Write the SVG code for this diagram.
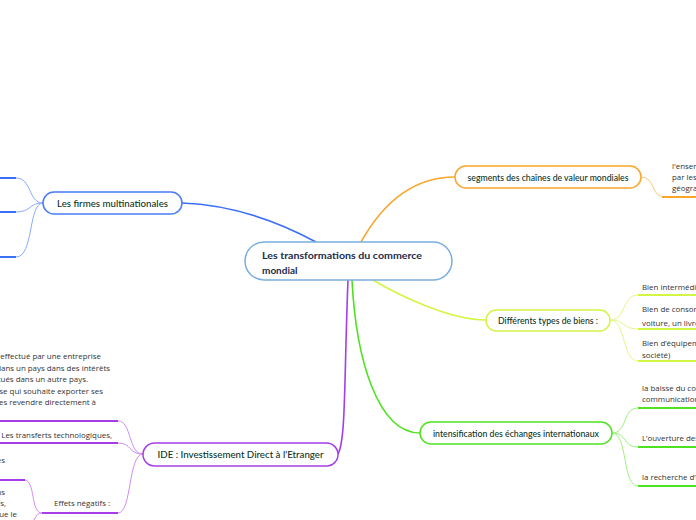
<svg xmlns="http://www.w3.org/2000/svg" width="696" height="520" viewBox="0 0 696 520">
<style>
.node{fill:#fff;stroke-width:1.5}
.lbl{font-family:Lato,"Open Sans",sans-serif;font-size:9.6px;font-weight:500;fill:#0b3427;text-anchor:middle}
.ctr{font-family:Lato,"Open Sans",sans-serif;font-size:10px;font-weight:700;fill:#1b2b4b}
.txt{font-family:"Open Sans","Noto Sans",sans-serif;font-size:7.9px;fill:#333}
.end{text-anchor:end}
.br{fill:none;stroke-width:1.6}
.sub{fill:none;stroke-width:1}
.ul{fill:none;stroke-width:2}
</style>
<rect width="696" height="520" fill="#fff"/>
<g id="connectors">
  <path class="br" stroke="#3b6ff6" d="M316,242 C290,228 240,205 182,203"/>
  <path class="br" stroke="#f9a62a" d="M361,242 C380,208 410,177 455,177"/>
  <path class="br" stroke="#d3f544" d="M373,280 C400,296 450,320 486,320"/>
  <path class="br" stroke="#4fe220" d="M352,280 C356,360 378,433 420,433"/>
  <path class="br" stroke="#a53ee8" d="M348,280 C344,380 346,440 338,454"/>
  <path class="sub" stroke="#8aabff" d="M43,203 C28,203 32,178 16,178"/>
  <path class="sub" stroke="#8aabff" d="M43,203 C28,203 32,212 16,212"/>
  <path class="sub" stroke="#8aabff" d="M43,203 C28,203 34,257 16,257"/>
  <path class="ul" stroke="#3b6ff6" d="M0,178 H16 M0,212 H16 M0,257 H16"/>
  <path class="sub" stroke="#fcc878" d="M641,177 C656,177 650,197 665,197"/>
  <path class="ul" stroke="#f9a62a" d="M662,197 H696"/>
  <path class="sub" stroke="#e2f88a" d="M610,320 C626,320 622,295 638,295"/>
  <path class="sub" stroke="#e2f88a" d="M610,320 C626,320 622,329 638,329"/>
  <path class="sub" stroke="#e2f88a" d="M610,320 C626,320 622,361 638,361"/>
  <path class="ul" stroke="#d3f544" d="M638,295 H696 M638,329 H696 M638,361 H696"/>
  <path class="sub" stroke="#9ef07f" d="M612,433 C628,433 622,408 638,408"/>
  <path class="sub" stroke="#9ef07f" d="M612,433 C628,433 622,447 638,447"/>
  <path class="sub" stroke="#9ef07f" d="M612,433 C628,433 622,486 638,486"/>
  <path class="ul" stroke="#4fe220" d="M638,408 H696 M638,447 H696 M638,486 H696"/>
  <path class="sub" stroke="#cf8cf5" d="M143,454 C128,454 132,421 118,421"/>
  <path class="sub" stroke="#cf8cf5" d="M143,454 C128,454 132,443 118,443"/>
  <path class="sub" stroke="#cf8cf5" d="M143,454 C128,454 132,513 118,513"/>
  <path class="ul" stroke="#a53ee8" d="M0,421 H118 M0,443 H118 M42,513 H118"/>
  <path class="sub" stroke="#cf8cf5" d="M42,513 C30,513 36,480 24,480"/>
  <path class="sub" stroke="#cf8cf5" d="M42,513 C34,513 36,522 28,526"/>
  <path class="ul" stroke="#a53ee8" d="M0,480 H25"/>
</g>
<g id="central">
  <rect class="node" x="245" y="242" width="207" height="38" rx="19" stroke="#78aee0"/>
  <text class="ctr" x="262" y="259" textLength="160" lengthAdjust="spacingAndGlyphs">Les transformations du commerce</text>
  <text class="ctr" x="262" y="274">mondial</text>
</g>
<g id="firmes">
  <rect class="node" x="43" y="192" width="139" height="22" rx="11" stroke="#4a7cf8"/>
  <text class="lbl" x="112.5" y="206.5" textLength="111" lengthAdjust="spacingAndGlyphs">Les firmes multinationales</text>
</g>
<g id="segments">
  <rect class="node" x="455" y="166" width="186" height="22" rx="11" stroke="#f9a62a"/>
  <text class="lbl" x="548" y="180.5" textLength="161" lengthAdjust="spacingAndGlyphs">segments des chaînes de valeur mondiales</text>
  <text class="txt" x="672" y="169">l'ensemble des activités réalisées</text>
  <text class="txt" x="672" y="180">par les entreprises dans différents lieux</text>
  <text class="txt" x="672" y="191">géographiques</text>
</g>
<g id="differents">
  <rect class="node" x="486" y="310" width="124" height="21" rx="10.5" stroke="#d3f544"/>
  <text class="lbl" x="548" y="323.5" textLength="100" lengthAdjust="spacingAndGlyphs">Différents types de biens :</text>
  <text class="txt" x="642" y="290">Bien intermédiaire (utilisé dans la production)</text>
  <text class="txt" x="642" y="312">Bien de consommation (ex : une</text>
  <text class="txt" x="642" y="326">voiture, un livre...)</text>
  <text class="txt" x="642" y="346">Bien d’équipement (ex : machine d'une</text>
  <text class="txt" x="642" y="358">société)</text>
</g>
<g id="intensification">
  <rect class="node" x="420" y="422" width="192" height="22" rx="11" stroke="#4fe220"/>
  <text class="lbl" x="516" y="436.5" textLength="166" lengthAdjust="spacingAndGlyphs">intensification des échanges internationaux</text>
  <text class="txt" x="642" y="391">la baisse du coût des transports et des</text>
  <text class="txt" x="642" y="402">communications</text>
  <text class="txt" x="642" y="441">L’ouverture des frontières</text>
  <text class="txt" x="642" y="480">la recherche d’économies d’échelle</text>
</g>
<g id="ide">
  <rect class="node" x="143" y="443" width="195" height="23" rx="11.5" stroke="#a53ee8"/>
  <text class="lbl" x="240.5" y="457.5" textLength="166" lengthAdjust="spacingAndGlyphs">IDE : Investissement Direct à l'Etranger</text>
  <text class="txt end" x="101" y="359">Un investissement effectué par une entreprise</text>
  <text class="txt end" x="110" y="371">implantée dans un pays dans des intérêts</text>
  <text class="txt end" x="88" y="382">situés dans un autre pays.</text>
  <text class="txt end" x="103" y="394">Ex : une entreprise qui souhaite exporter ses</text>
  <text class="txt end" x="96" y="405">produits peut les revendre directement à</text>
  <text class="txt end" x="112" y="438">Les transferts technologiques,</text>
  <text class="txt end" x="5" y="463">des emplois créés dans les pays hôtes</text>
</g>
<g id="effets">
  <text class="txt" x="54" y="506">Effets négatifs :</text>
  <text class="txt end" x="5" y="495">les délocalisations</text>
  <text class="txt end" x="6" y="506">pertes d'emplois,</text>
  <text class="txt end" x="17" y="517">ainsi que le</text>
</g>
</svg>
